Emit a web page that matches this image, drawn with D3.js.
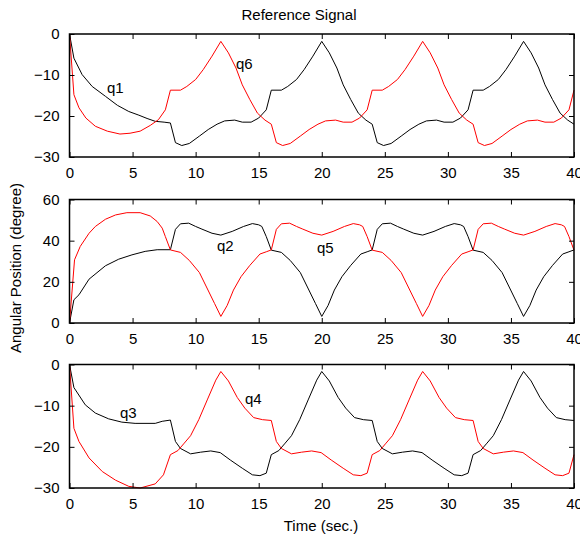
<!DOCTYPE html>
<html>
<head>
<meta charset="utf-8">
<script src="https://cdn.jsdelivr.net/npm/d3@7/dist/d3.min.js"></script>
<style>
  body { margin: 0; background: #fff; }
  text { font-family: "Liberation Sans", Arial, sans-serif; }
</style>
</head>
<body>
<svg id="chart"></svg>
<script>
// time ticks shared by all three panels
var xTicks = [0, 5, 10, 15, 20, 25, 30, 35, 40];
var yTicksTop = [0, -10, -20, -30];
var yTicksMid = [0, 20, 40, 60];
var yTicksBot = [0, -10, -20, -30];

// [time, angle]
var q1 = [[0,0],[0.35,-5.9],[1.0,-9.9],[1.8,-12.8],[2.85,-15.2],[3.8,-17.4],[4.7,-18.9],[5.5,-19.8],[6.15,-20.6],[6.8,-21.3],[7.5,-21.5],[8,-21.7],
  [8.4,-26.5],[8.9,-27.2],[9.5,-26.7],[10.3,-24.9],[11,-23.3],[11.7,-22],[12.3,-21.2],[13.1,-21],[13.7,-21.5],[14.4,-21.5],[15,-20.5],[15.6,-18.5],
  [16,-13.7],[16.8,-13.7],[17.3,-12.8],[18,-11.1],[18.6,-8.7],[19.3,-5.4],[20,-1.8],[20.6,-4.6],[21.2,-8.3],[21.7,-12.4],[22.3,-16],[22.9,-19.3],[23.5,-21],
  [24,-22],[24.4,-26.5],[24.9,-27.2],[25.5,-26.7],[26.3,-24.9],[27,-23.3],[27.7,-22],[28.3,-21.2],[29.1,-21],[29.7,-21.5],[30.4,-21.5],[31,-20.5],[31.6,-18.5],
  [32,-13.7],[32.8,-13.7],[33.3,-12.8],[34,-11.1],[34.6,-8.7],[35.3,-5.4],[36,-1.8],[36.6,-4.6],[37.2,-8.3],[37.7,-12.4],[38.3,-16],[38.9,-19.3],[39.5,-21],[40,-22]];

var q6 = [[0,0],[0.35,-14.8],[0.75,-18],[1.3,-20.5],[2.05,-22.5],[3,-23.7],[4,-24.4],[4.8,-24.2],[5.6,-23.7],[6.4,-22.3],[7.05,-20.9],[7.6,-18.5],
  [8,-13.7],[8.8,-13.7],[9.3,-12.8],[10,-11.1],[10.6,-8.7],[11.3,-5.4],[12,-1.8],[12.6,-4.6],[13.2,-8.3],[13.7,-12.4],[14.3,-16],[14.9,-19.3],[15.5,-21],
  [16,-22],[16.4,-26.5],[16.9,-27.2],[17.5,-26.7],[18.3,-24.9],[19,-23.3],[19.7,-22],[20.3,-21.2],[21.1,-21],[21.7,-21.5],[22.4,-21.5],[23,-20.5],[23.6,-18.5],
  [24,-13.7],[24.8,-13.7],[25.3,-12.8],[26,-11.1],[26.6,-8.7],[27.3,-5.4],[28,-1.8],[28.6,-4.6],[29.2,-8.3],[29.7,-12.4],[30.3,-16],[30.9,-19.3],[31.5,-21],
  [32,-22],[32.4,-26.5],[32.9,-27.2],[33.5,-26.7],[34.3,-24.9],[35,-23.3],[35.7,-22],[36.3,-21.2],[37.1,-21],[37.7,-21.5],[38.4,-21.5],[39,-20.5],[39.6,-18.5],[40,-13.7]];

var q2 = [[0,0],[0.35,11.3],[0.75,13.7],[1.55,21.3],[2.85,27.8],[3.9,31],[4.95,33.1],[6,34.8],[6.95,35.6],[8,35.6],
  [8.4,45.5],[8.8,48.2],[9.45,48.5],[10,46.9],[10.5,45.6],[11.3,43.6],[12,42.7],[12.9,44.5],[13.8,46.9],[14.5,48.3],[15,47.7],[15.25,46.9],[15.6,42],
  [16,35.4],[16.8,34.3],[17.5,30.4],[18.3,24.5],[18.9,17],[19.5,9.5],[20,3.2],[20.5,8.5],[21,16],[21.6,22.5],[22.3,28],[23.1,33.5],[23.6,34.6],
  [24,35.5],[24.4,45.5],[24.8,48.2],[25.45,48.5],[26,46.9],[26.5,45.6],[27.3,43.6],[28,42.7],[28.9,44.5],[29.8,46.9],[30.5,48.3],[31,47.7],[31.25,46.9],[31.6,42],
  [32,35.4],[32.8,34.3],[33.5,30.4],[34.3,24.5],[34.9,17],[35.5,9.5],[36,3.2],[36.5,8.5],[37,16],[37.6,22.5],[38.3,28],[39.1,33.5],[39.6,34.6],[40,35.5]];

var q5 = [[0,0],[0.4,30.7],[0.85,37.2],[1.55,43.6],[2.05,46.9],[2.85,50.4],[3.65,52.5],[4.55,53.6],[5.6,53.6],[6.4,52],[6.95,49.3],[7.35,46.1],[7.6,42],
  [8,35.5],[8.8,34.3],[9.5,30.4],[10.3,24.5],[10.9,17],[11.5,9.5],[12,3.2],[12.5,8.5],[13,16],[13.6,22.5],[14.3,28],[15.1,33.5],[15.6,34.6],
  [16,35.5],[16.4,45.5],[16.8,48.2],[17.45,48.5],[18,46.9],[18.5,45.6],[19.3,43.6],[20,42.7],[20.9,44.5],[21.8,46.9],[22.5,48.3],[23,47.7],[23.25,46.9],[23.6,42],
  [24,35.4],[24.8,34.3],[25.5,30.4],[26.3,24.5],[26.9,17],[27.5,9.5],[28,3.2],[28.5,8.5],[29,16],[29.6,22.5],[30.3,28],[31.1,33.5],[31.6,34.6],
  [32,35.5],[32.4,45.5],[32.8,48.2],[33.45,48.5],[34,46.9],[34.5,45.6],[35.3,43.6],[36,42.7],[36.9,44.5],[37.8,46.9],[38.5,48.3],[39,47.7],[39.25,46.9],[39.6,42],[40,35.4]];

var q3 = [[0,0],[0.35,-5.6],[1.25,-9.8],[2.05,-11.8],[3.1,-13.2],[4.15,-14],[5.2,-14.3],[6.8,-14.3],[7.35,-13.8],[8,-13.5],
  [8.4,-18.7],[8.8,-20.4],[9.6,-21.7],[10.4,-21.3],[11.2,-21],[11.95,-21.4],[12.75,-23.2],[13.7,-25.2],[14.5,-26.8],[15.1,-27],[15.6,-26.4],
  [16,-21.9],[16.6,-20.9],[17.1,-19.1],[17.6,-17.3],[18.25,-13.4],[18.95,-8.4],[19.6,-3.8],[20,-1.7],[20.6,-4],[21.3,-8],[21.9,-10.6],[22.6,-12.9],[23.3,-13.4],
  [24,-13.6],[24.4,-18.7],[24.8,-20.4],[25.6,-21.7],[26.4,-21.3],[27.2,-21],[27.95,-21.4],[28.75,-23.2],[29.7,-25.2],[30.5,-26.8],[31.1,-27],[31.6,-26.4],
  [32,-21.9],[32.6,-20.9],[33.1,-19.1],[33.6,-17.3],[34.25,-13.4],[34.95,-8.4],[35.6,-3.8],[36,-1.7],[36.6,-4],[37.3,-8],[37.9,-10.6],[38.6,-12.9],[39.3,-13.4],[40,-13.6]];

var q4 = [[0,0],[0.35,-15.5],[0.75,-18.7],[1.55,-22.7],[2.6,-26],[3.65,-28.1],[4.7,-29.6],[5.6,-30],[6.8,-29],[7.45,-26.8],
  [8,-21.9],[8.6,-20.9],[9.1,-19.1],[9.6,-17.3],[10.25,-13.4],[10.95,-8.4],[11.6,-3.8],[12,-1.7],[12.6,-4],[13.3,-8],[13.9,-10.6],[14.6,-12.9],[15.3,-13.4],
  [16,-13.6],[16.4,-18.7],[16.8,-20.4],[17.6,-21.7],[18.4,-21.3],[19.2,-21],[19.95,-21.4],[20.75,-23.2],[21.7,-25.2],[22.5,-26.8],[23.1,-27],[23.6,-26.4],
  [24,-21.9],[24.6,-20.9],[25.1,-19.1],[25.6,-17.3],[26.25,-13.4],[26.95,-8.4],[27.6,-3.8],[28,-1.7],[28.6,-4],[29.3,-8],[29.9,-10.6],[30.6,-12.9],[31.3,-13.4],
  [32,-13.6],[32.4,-18.7],[32.8,-20.4],[33.6,-21.7],[34.4,-21.3],[35.2,-21],[35.95,-21.4],[36.75,-23.2],[37.7,-25.2],[38.5,-26.8],[39.1,-27],[39.6,-26.4],[40,-21.9]];

var W = 580, H = 537;
var left = 69.5, right = 574;

var svg = d3.select("#chart")
    .attr("width", W)
    .attr("height", H);

var x = d3.scaleLinear().domain([0, 40]).range([left, right]);

// one entry per subplot
var panels = [
  {top: 34, bottom: 157, domain: [-30, 0], ticks: yTicksTop, black: q1, red: q6,
   labels: [["q1", 107, 93], ["q6", 236, 69]]},
  {top: 199.5, bottom: 323, domain: [0, 60], ticks: yTicksMid, black: q2, red: q5,
   labels: [["q2", 217, 251], ["q5", 317, 253]]},
  {top: 364.5, bottom: 488, domain: [-30, 0], ticks: yTicksBot, black: q3, red: q4,
   labels: [["q3", 120, 418], ["q4", 245, 404]]}
];

panels.forEach(function(p) {
    var y = d3.scaleLinear().domain(p.domain).range([p.bottom, p.top]);
    var g = svg.append("g");

    var line = d3.line()
        .x(function(d) { return x(d[0]); })
        .y(function(d) { return y(d[1]); });

    g.append("path")
        .datum(p.black)
        .attr("d", line)
        .attr("fill", "none")
        .attr("stroke", "#000")
        .attr("stroke-width", 1);

    g.append("path")
        .datum(p.red)
        .attr("d", line)
        .attr("fill", "none")
        .attr("stroke", "#ff0000")
        .attr("stroke-width", 1);

    // axes, ticks pointing inward on all four sides
    var ax = [
        [d3.axisBottom(x).tickValues(xTicks), "translate(0," + p.bottom + ")", true],
        [d3.axisTop(x).tickValues(xTicks), "translate(0," + p.top + ")", false],
        [d3.axisLeft(y).tickValues(p.ticks), "translate(" + left + ",0)", true],
        [d3.axisRight(y).tickValues(p.ticks), "translate(" + right + ",0)", false]
    ];
    ax.forEach(function(a) {
        var ag = g.append("g")
            .attr("transform", a[1])
            .call(a[0].tickSizeInner(-5).tickSizeOuter(0).tickPadding(a[2] ? 10 : 0));
        ag.select(".domain").remove();
        ag.selectAll("line").attr("stroke", "#000");
        if (!a[2]) ag.selectAll("text").remove();
        else ag.selectAll("text").attr("font-size", 15).attr("fill", "#000")
            .attr("font-family", '"Liberation Sans", Arial, sans-serif');
    });

    g.append("rect")
        .attr("x", left)
        .attr("y", p.top)
        .attr("width", right - left)
        .attr("height", p.bottom - p.top)
        .attr("fill", "none")
        .attr("stroke", "#000")
        .attr("stroke-width", 1.5);

    p.labels.forEach(function(l) {
        g.append("text")
            .attr("x", l[1])
            .attr("y", l[2])
            .attr("font-size", 15)
            .text(l[0]);
    });
});

svg.append("text")
    .attr("x", 299)
    .attr("y", 20)
    .attr("text-anchor", "middle")
    .attr("font-size", 15)
    .text("Reference Signal");

svg.append("text")
    .attr("x", 321)
    .attr("y", 531)
    .attr("text-anchor", "middle")
    .attr("font-size", 15)
    .text("Time (sec.)");

svg.append("text")
    .attr("transform", "translate(21,268) rotate(-90)")
    .attr("text-anchor", "middle")
    .attr("font-size", 15)
    .text("Angular Position (degree)");
</script>
</body>
</html>
